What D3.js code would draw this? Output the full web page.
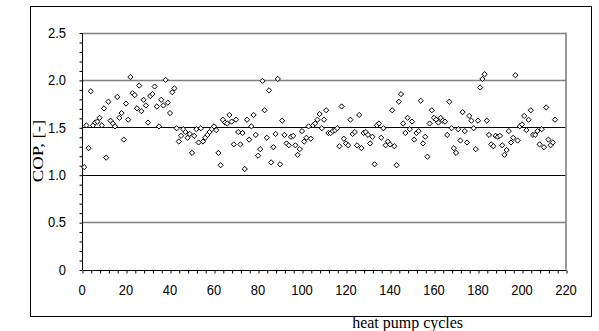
<!DOCTYPE html>
<html><head><meta charset="utf-8">
<script src="https://cdn.jsdelivr.net/npm/d3@7"></script>
<style>body{margin:0;background:#fff}svg{display:block}</style>
</head><body><svg id="c" width="599" height="331"></svg>
<script>
// COP value per heat pump cycle (cycle 1 .. N)
const copValues = [
1.08,1.52,1.28,1.88,1.52,1.55,1.56,1.60,1.52,1.70,
1.18,1.77,1.57,1.54,1.51,1.82,1.60,1.65,1.37,1.75,
1.58,2.03,1.86,1.84,1.70,1.94,1.67,1.79,1.73,1.55,
1.83,1.85,1.93,1.72,1.51,1.79,1.73,2.00,1.76,1.65,
1.87,1.91,1.49,1.35,1.41,1.48,1.45,1.39,1.43,1.23,
1.41,1.48,1.34,1.49,1.35,1.39,1.42,1.45,1.48,1.51,
1.47,1.23,1.10,1.58,1.55,1.54,1.63,1.56,1.32,1.58,
1.45,1.32,1.44,1.06,1.58,1.37,1.51,1.63,1.42,1.20,
1.27,1.99,1.68,1.39,1.89,1.13,1.29,1.43,2.01,1.11,
1.57,1.42,1.33,1.31,1.40,1.41,1.31,1.21,1.27,1.46,
1.35,1.39,1.51,1.38,1.52,1.54,1.58,1.64,1.49,1.58,
1.68,1.44,1.44,1.46,1.47,1.49,1.30,1.72,1.38,1.33,
1.31,1.58,1.43,1.45,1.31,1.63,1.28,1.44,1.45,1.42,
1.33,1.40,1.11,1.52,1.54,1.39,1.49,1.31,1.35,1.32,
1.68,1.30,1.10,1.77,1.85,1.54,1.44,1.60,1.48,1.56,
1.37,1.44,1.46,1.78,1.33,1.40,1.19,1.54,1.68,1.60,
1.58,1.55,1.60,1.57,1.56,1.42,1.77,1.49,1.28,1.23,
1.48,1.36,1.66,1.46,1.34,1.62,1.57,1.49,1.27,1.57,
1.92,2.01,2.06,1.57,1.42,1.32,1.30,1.41,1.40,1.41,
1.31,1.21,1.26,1.46,1.34,1.39,2.05,1.36,1.51,1.53,
1.62,1.47,1.58,1.68,1.42,1.42,1.46,1.32,1.48,1.29,
1.71,1.37,1.31,1.34,1.58
];
const xTickValues = [0,20,40,60,80,100,120,140,160,180,200,220];
const yTickValues = [0,0.5,1.0,1.5,2.0,2.5];
const yTickLabels = ["0","0.5","1.0","1.5","2.0","2.5"];
const xTitle = "heat pump cycles";
const yTitle = "COP, [-]";

const svg = d3.select("#c");
const L = 82, R = 566, T = 32.5, B = 269.5;
const x = d3.scaleLinear().domain([0,220]).range([L,R]);
const y = d3.scaleLinear().domain([0,2.5]).range([B,T]);
const sansFont = "Liberation Sans, Arial, sans-serif";
const serifFont = "Liberation Serif, Times New Roman, serif";

// outer chart box
svg.append("rect").attr("x",30.5).attr("y",6.5).attr("width",561).attr("height",310)
  .attr("fill","#fff").attr("stroke","#000").attr("stroke-width",1);

// gridlines
svg.append("g").selectAll("line").data(yTickValues.filter(v=>v>0)).join("line")
  .attr("x1",L).attr("x2",R)
  .attr("y1",d=>Math.round(y(d))+0.5).attr("y2",d=>Math.round(y(d))+0.5)
  .attr("stroke",d=>(d===1.0||d===1.5)?"#000":"#808080")
  .attr("stroke-width",d=>(d===1.0||d===1.5)?1:1.6);

// right border of plot area
svg.append("line").attr("x1",R).attr("x2",R).attr("y1",T).attr("y2",B)
  .attr("stroke","#808080").attr("stroke-width",1.6);

// y axis with minor ticks
const yAxis = d3.axisLeft(y).tickValues(d3.range(0,2.5001,0.1)).tickSize(3).tickFormat("");
const gy = svg.append("g").attr("transform",`translate(${L+0.5},0.5)`).call(yAxis);
gy.select(".domain").attr("stroke","#000").attr("d",`M0,${y(0)}V${y(2.5)}`);
gy.selectAll(".tick line").attr("stroke","#000");
svg.append("g").selectAll("text").data(yTickValues).join("text")
  .attr("transform",d=>`translate(66,${y(d)}) scale(1,1.12)`)
  .attr("dy","0.36em").attr("text-anchor","end")
  .attr("font-family",sansFont).attr("font-size",13)
  .text((d,i)=>yTickLabels[i]);

// x axis with minor ticks
const xAxis = d3.axisBottom(x).tickValues(d3.range(0,220.001,4)).tickSize(3).tickFormat("");
const gx = svg.append("g").attr("transform",`translate(0.5,${Math.round(B)+0.5})`).call(xAxis);
gx.select(".domain").attr("stroke","#000").attr("d",`M${x(0)},0H${x(220)}`);
gx.selectAll(".tick line").attr("stroke","#000");
svg.append("g").selectAll("text").data(xTickValues).join("text")
  .attr("transform",d=>`translate(${x(d)},290) scale(1,1.12)`)
  .attr("dy","0.36em").attr("text-anchor","middle")
  .attr("font-family",sansFont).attr("font-size",13)
  .text(d=>d);

// axis titles
svg.append("text").attr("transform","translate(38,151) rotate(-90) scale(1.25,1)")
  .attr("text-anchor","middle").attr("dy","0.35em")
  .attr("font-family",serifFont).attr("font-size",15)
  .text(yTitle);
svg.append("text").attr("transform",`translate(${x(148)},328) scale(1,1.1)`).attr("text-anchor","middle")
  .attr("font-family",serifFont).attr("font-size",16)
  .text(xTitle);

// markers: hollow diamonds
const r = 2.6;
svg.append("g").selectAll("path").data(copValues).join("path")
  .attr("transform",(d,i)=>`translate(${x(i+1)},${y(d)})`)
  .attr("d",`M0,${-r}L${r},0L0,${r}L${-r},0Z`)
  .attr("fill","#fff").attr("stroke","#000").attr("stroke-width",1);
</script></body></html>
